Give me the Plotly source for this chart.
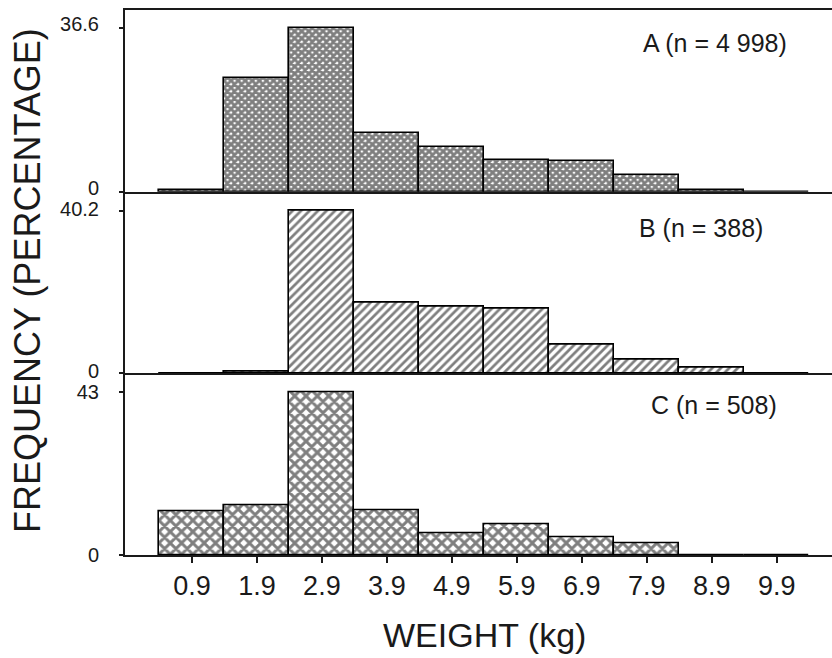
import plotly.graph_objects as go
from plotly.subplots import make_subplots

categories = ["0.9", "1.9", "2.9", "3.9", "4.9", "5.9", "6.9", "7.9", "8.9", "9.9"]
freq_a = [0.3, 25.5, 36.6, 13.1, 10.0, 7.1, 6.9, 3.8, 0.3, 0]
freq_b = [0, 0.3, 40.2, 17.4, 16.6, 15.9, 7.2, 3.5, 1.5, 0]
freq_c = [11.6, 13.2, 43.0, 11.9, 5.8, 8.2, 4.7, 3.2, 0, 0]
panel_labels = ["A (n = 4 998)", "B (n = 388)", "C (n = 508)"]
y_max_ticks = [36.6, 40.2, 43]
y_tick_text = ["36.6", "40.2", "43"]

FONT = "Liberation Sans, Arial, sans-serif"
INK = "#1a1a1a"

fig = make_subplots(rows=3, cols=1, shared_xaxes=False, vertical_spacing=0)

patterns = [
    dict(shape="x", size=5, solidity=0.8, fgcolor="black", bgcolor="white"),
    dict(shape="/", size=6, solidity=0.45, fgcolor="black", bgcolor="white"),
    dict(shape="x", size=8, solidity=0.6, fgcolor="black", bgcolor="white"),
]
series = [freq_a, freq_b, freq_c]
yranges = [[0, 40.6], [0, 44.9], [0, 48.0]]
label_shifts = [-4, -2, 0]

for i, (vals, pat) in enumerate(zip(series, patterns)):
    r = i + 1
    fig.add_trace(
        go.Bar(
            x=categories, y=vals,
            marker=dict(color="white", pattern=pat, line=dict(color="black", width=1.6)),
            showlegend=False, hoverinfo="x+y",
        ),
        row=r, col=1,
    )
    fig.update_yaxes(
        range=yranges[i], tickvals=[0, y_max_ticks[i]], ticktext=["0", y_tick_text[i]],
        ticks="outside", ticklen=4, tickwidth=1.5, tickcolor=INK,
        showline=True, linecolor=INK, linewidth=2, showgrid=False, zeroline=False,
        tickfont=dict(family=FONT, size=20, color=INK), ticklabelstandoff=16,
        ticklabelshift=label_shifts[i],
        row=r, col=1,
    )
    fig.update_xaxes(
        range=[-1.03, 9.85], type="category",
        showline=True, linecolor=INK, linewidth=2, showgrid=False, zeroline=False,
        mirror=(r == 1),
        showticklabels=(r == 3), ticks=("outside" if r == 3 else ""),
        ticklen=6, tickwidth=1.5, tickcolor=INK,
        tickfont=dict(family=FONT, size=27, color=INK),
        row=r, col=1,
    )

fig.update_layout(
    width=832, height=658,
    margin=dict(l=125, r=0, t=10, b=103),
    plot_bgcolor="white", paper_bgcolor="white",
    bargap=0,
)

ann_pos = [(0.8345, 0.9394), (0.8147, 0.600), (0.833, 0.2752)]
for (ax, ay), txt in zip(ann_pos, panel_labels):
    fig.add_annotation(x=ax, y=ay, xref="paper", yref="paper", text=txt, showarrow=False,
                       font=dict(family=FONT, size=25, color=INK), xanchor="center", yanchor="middle")

fig.add_annotation(x=-0.1372, y=0.5046, xref="paper", yref="paper", text="FREQUENCY (PERCENTAGE)",
                   textangle=-90, showarrow=False, font=dict(family=FONT, size=36, color=INK),
                   xanchor="center", yanchor="middle")
fig.add_annotation(x=0.509, y=-0.1468, xref="paper", yref="paper", text="WEIGHT (kg)",
                   showarrow=False, font=dict(family=FONT, size=34, color=INK),
                   xanchor="center", yanchor="middle")

fig.write_html("out.html")
